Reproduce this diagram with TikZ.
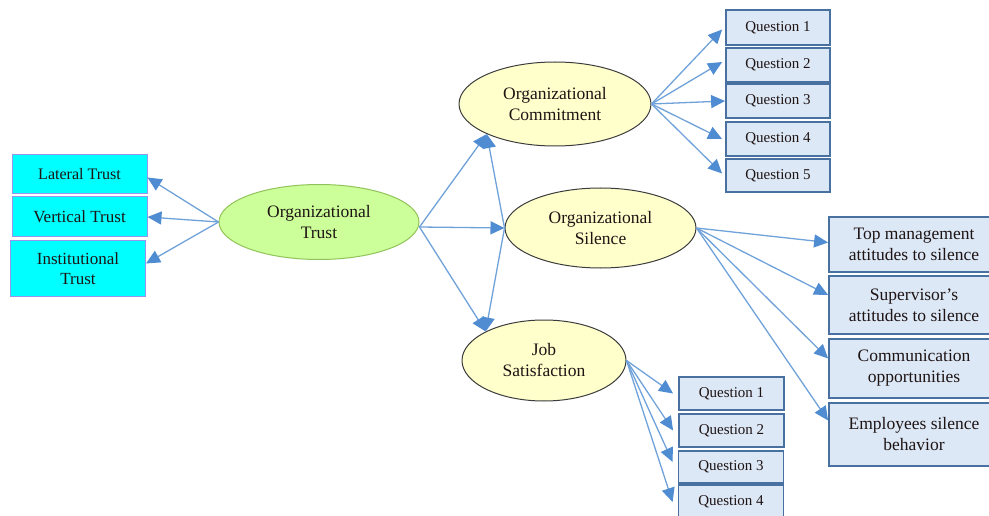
\documentclass[tikz,border=0pt]{standalone}
\usepackage{fontspec}
\setmainfont{Liberation Serif}
\usetikzlibrary{shapes.geometric,arrows.meta}
\definecolor{linkblue}{RGB}{112,162,218}
\definecolor{tipblue}{RGB}{80,140,210}
\definecolor{cyanfill}{RGB}{0,255,255}
\definecolor{cyanedge}{RGB}{150,150,235}
\definecolor{qfill}{RGB}{221,232,246}
\definecolor{qedge}{RGB}{72,112,160}
\definecolor{gfill}{RGB}{204,255,153}
\definecolor{gedge}{RGB}{145,195,90}
\definecolor{yfill}{RGB}{255,255,204}
\definecolor{yedge}{RGB}{60,60,60}
\definecolor{txt}{RGB}{30,20,20}
\tikzset{
  trustbox/.style={draw=cyanedge, fill=cyanfill, line width=1pt, minimum width=135pt, inner sep=0pt, align=center, text=txt, font=\fontsize{17}{20}\selectfont},
  qbox/.style={draw=qedge, fill=qfill, line width=1.8pt, inner sep=0pt, align=center, text=txt, font=\fontsize{15}{18}\selectfont},
  sbox/.style={draw=qedge, fill=qfill, line width=1.8pt, minimum width=170pt, inner sep=0pt, align=center, text=txt, font=\fontsize{17.5}{21}\selectfont},
  gell/.style={ellipse, draw=gedge, fill=gfill, line width=1pt, inner sep=0pt, align=center, text=txt, font=\fontsize{17.5}{21}\selectfont},
  yell/.style={ellipse, draw=yedge, fill=yfill, line width=1pt, inner sep=0pt, align=center, text=txt, font=\fontsize{17.5}{21}\selectfont},
  link/.style={draw=linkblue, line width=1.3pt, -{Triangle[length=14pt,width=13pt,fill=tipblue,color=tipblue]}}
}
\begin{document}
\begin{tikzpicture}[x=1pt,y=-1pt]
\useasboundingbox (0,0) rectangle (989,516);
% left boxes
\node[trustbox, minimum height=39pt, font=\fontsize{16}{19}\selectfont] (lt) at (79.5,174.5) {Lateral Trust};
\node[trustbox, minimum height=40pt] (vt) at (79.5,217) {Vertical Trust};
\node[trustbox, minimum height=55pt] (it) at (78,268.5) {Institutional\\Trust};
% ellipses
\node[gell, minimum width=200pt, minimum height=75pt] (ot) at (319,222) {Organizational\\Trust};
\node[yell, minimum width=192pt, minimum height=84pt] (cm) at (555,104) {Organizational\\Commitment};
\node[yell, minimum width=191pt, minimum height=80pt] (si) at (600.5,228) {Organizational\\Silence};
\node[yell, minimum width=164pt, minimum height=81pt] (js) at (544,360.5) {Job\\Satisfaction};
% commitment questions
\node[qbox, minimum width=104pt, minimum height=35pt] (c1) at (778,27.5) {Question 1};
\node[qbox, minimum width=104pt, minimum height=34pt] (c2) at (778,65) {Question 2};
\node[qbox, minimum width=104pt, minimum height=34pt] (c3) at (778,101) {Question 3};
\node[qbox, minimum width=104pt, minimum height=34pt] (c4) at (778,139) {Question 4};
\node[qbox, minimum width=104pt, minimum height=33pt] (c5) at (778,175.5) {Question 5};
% silence boxes
\node[sbox, minimum height=55pt] (s1) at (914,244.5) {Top management\\attitudes to silence};
\node[sbox, minimum height=58pt] (s2) at (914,305) {Supervisor's\\attitudes to silence};
\node[sbox, minimum height=59pt] (s3) at (914,368.5) {Communication\\opportunities};
\node[sbox, minimum height=63pt] (s4) at (914,434.5) {Employees silence\\behavior};
% job questions
\node[qbox, minimum width=105pt, minimum height=33pt] (j1) at (731.5,393.5) {Question 1};
\node[qbox, minimum width=105pt, minimum height=33pt] (j2) at (731.5,430.5) {Question 2};
\node[qbox, minimum width=105pt, minimum height=32pt] (j3) at (731,467) {Question 3};
\node[qbox, minimum width=105pt, minimum height=34pt] (j4) at (731,502) {Question 4};
% connectors from organizational trust
\draw[link] (ot.west) -- ([yshift=-3pt]lt.east);
\draw[link] (ot.west) -- (vt.east);
\draw[link] (ot.west) -- ([yshift=5pt]it.east);
\draw[link] ([yshift=-5pt]ot.east) -- (cm.south west);
\draw[link] ([yshift=-5pt]ot.east) -- (si.west);
\draw[link] ([yshift=-5pt]ot.east) -- (js.north west);
\draw[link] (si.west) -- (cm.south west);
\draw[link] (si.west) -- (js.north west);
% commitment
\draw[link] (cm.east) -- ([yshift=-2pt,xshift=-3pt]c1.west);
\draw[link] (cm.east) -- ([yshift=3pt,xshift=-3pt]c2.west);
\draw[link] (cm.east) -- (c3.west);
\draw[link] (cm.east) -- ([xshift=-3pt]c4.west);
\draw[link] (cm.east) -- ([yshift=2pt,xshift=-3pt]c5.west);
% silence
\draw[link] (si.east) -- ([yshift=2pt]s1.west);
\draw[link] (si.east) -- ([yshift=10pt]s2.west);
\draw[link] (si.east) -- ([yshift=10pt]s3.west);
\draw[link] (si.east) -- ([yshift=14pt]s4.west);
% job satisfaction
\draw[link] (js.east) -- ([xshift=-5pt]j1.west);
\draw[link] (js.east) -- ([xshift=-5pt]j2.west);
\draw[link] (js.east) -- ([xshift=-5pt,yshift=5pt]j3.west);
\draw[link] (js.east) -- ([xshift=-5pt]j4.west);
\end{tikzpicture}
\end{document}
